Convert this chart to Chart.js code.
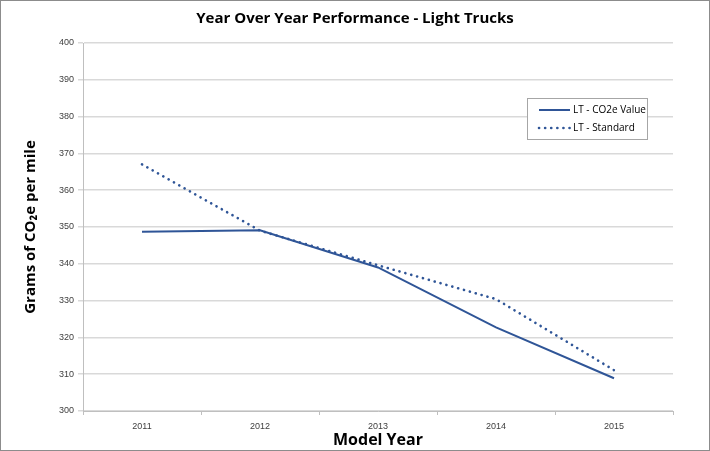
<!DOCTYPE html>
<html>
<head>
<meta charset="utf-8">
<script src="https://cdn.jsdelivr.net/npm/chart.js@4"></script>
<style>
  html, body { margin: 0; padding: 0; background: #fff; }
  #wrap { width: 708px; height: 449px; border: 1px solid #8c8c8c; position: relative; }
  canvas { display: block; }
</style>
</head>
<body>
<div id="wrap"><canvas id="chart" width="708" height="449"></canvas></div>
<script>
const years = ["2011", "2012", "2013", "2014", "2015"];
const co2eValue = [348.7, 349.1, 339.0, 322.7, 308.9];
const standard = [367.0, 349.0, 339.6, 330.4, 311.1];
const yTicks = [300, 310, 320, 330, 340, 350, 360, 370, 380, 390, 400];
const chartTitle = "Year Over Year Performance - Light Trucks";

const blue = "#2f5597";

// title centred on the whole canvas, legend box inside the plot
const decorations = {
    id: "decorations",
    afterDraw(chart) {
        const ctx = chart.ctx;
        ctx.save();
        ctx.font = "bold 15px 'Open Sans'";
        ctx.fillStyle = "#000";
        ctx.textAlign = "center";
        ctx.textBaseline = "middle";
        ctx.fillText(chartTitle, chart.width / 2, 18);

        const x = 526, y = 97, w = 120, h = 41;
        ctx.textAlign = "left";
        ctx.fillStyle = "#fff";
        ctx.fillRect(x, y, w, h);
        ctx.strokeStyle = "#a6a6a6";
        ctx.lineWidth = 1;
        ctx.strokeRect(x + 0.5, y + 0.5, w, h);
        ctx.font = "10px 'Open Sans'";
        chart.data.datasets.forEach((ds, i) => {
            const ly = y + 12 + i * 18;
            ctx.strokeStyle = ds.borderColor;
            ctx.lineWidth = ds.borderWidth;
            ctx.lineCap = ds.borderCapStyle || "butt";
            ctx.setLineDash(ds.borderDash || []);
            ctx.beginPath();
            ctx.moveTo(x + 12, ly);
            ctx.lineTo(x + 43, ly);
            ctx.stroke();
            ctx.setLineDash([]);
            ctx.fillStyle = "#000";
            ctx.fillText(ds.label, x + 46, ly);
        });
        ctx.restore();
    }
};

new Chart(document.getElementById("chart"), {
    type: "line",
    data: {
        labels: years,
        datasets: [
            {
                label: "LT - CO2e Value",
                data: co2eValue,
                borderColor: blue,
                borderWidth: 2,
                pointRadius: 0,
                tension: 0
            },
            {
                label: "LT - Standard",
                data: standard,
                borderColor: blue,
                borderWidth: 2.6,
                borderDash: [0.1, 6],
                borderCapStyle: "round",
                pointRadius: 0,
                tension: 0
            }
        ]
    },
    options: {
        responsive: false,
        animation: false,
        layout: { padding: { top: 42, right: 36, bottom: 0, left: 0 } },
        plugins: {
            legend: { display: false },
            tooltip: { enabled: false },
            title: { display: false }
        },
        scales: {
            x: {
                offset: true,
                afterFit(scale) { scale.height = 39; },
                grid: { offset: true, drawOnChartArea: false, color: "#bfbfbf", tickLength: 4, lineWidth: 1 },
                border: { color: "#bfbfbf" },
                ticks: { font: { family: "'Liberation Sans'", size: 9 }, color: "#404040", padding: 6 },
                title: {
                    display: true,
                    text: "Model Year",
                    font: { family: "'Open Sans'", size: 16, weight: "bold" },
                    color: "#000",
                    padding: { top: 0, bottom: 0 }
                }
            },
            y: {
                min: 300,
                max: 400,
                afterFit(scale) { scale.width = 82; },
                afterBuildTicks(scale) { scale.ticks = yTicks.map(v => ({ value: v })); },
                grid: { color: "#d9d9d9", lineWidth: 1.5, tickLength: 5, drawTicks: true },
                border: { color: "#bfbfbf" },
                ticks: { font: { family: "'Liberation Sans'", size: 9 }, color: "#404040", padding: 4 },
                title: {
                    display: true,
                    text: "Grams of CO\u2082e per mile",
                    font: { family: "'Open Sans'", size: 15, weight: "bold" },
                    color: "#000",
                    padding: { top: 21, bottom: 0 }
                }
            }
        }
    },
    plugins: [decorations]
});
</script>
</body>
</html>
